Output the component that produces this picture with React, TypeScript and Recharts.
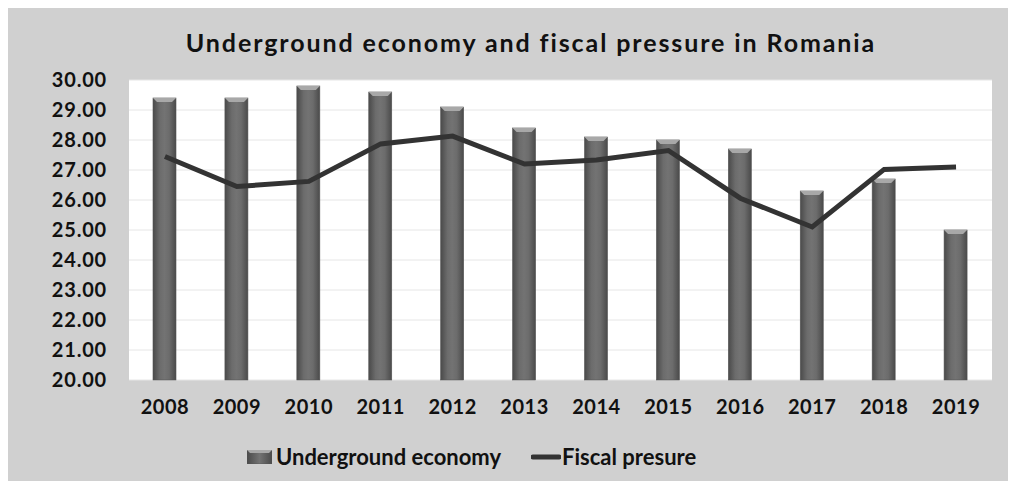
import {
  Bar,
  CartesianGrid,
  ComposedChart,
  Line,
  XAxis,
  YAxis,
} from 'recharts';

const years = ['2008', '2009', '2010', '2011', '2012', '2013', '2014', '2015', '2016', '2017', '2018', '2019'];
const underground = [29.4, 29.4, 29.8, 29.6, 29.1, 28.4, 28.1, 28.0, 27.7, 26.3, 26.7, 25.0];
const fiscal = [27.45, 26.45, 26.62, 27.87, 28.13, 27.2, 27.33, 27.65, 26.06, 25.1, 27.02, 27.1];
const yTicks = [20, 21, 22, 23, 24, 25, 26, 27, 28, 29, 30];

const data = years.map((year, i) => ({
  year,
  underground: underground[i],
  fiscal: fiscal[i],
}));

const FONT = 'Lato, "Open Sans", sans-serif';

function BevelBar(props: any) {
  const { x, y, width, height } = props;
  if (!height || height <= 0) return null;
  const b = 4;
  return (
    <g>
      <rect x={x} y={y} width={width} height={height} fill="url(#barGrad)" stroke="#555" strokeWidth={0.6} />
      <polygon
        points={`${x},${y} ${x + width},${y} ${x + width - b},${y + b} ${x + b},${y + b}`}
        fill="#a8a8a8"
      />
    </g>
  );
}

function ChartLegend() {
  return (
    <div
      style={{
        position: 'absolute',
        left: 239,
        top: 435,
        display: 'flex',
        alignItems: 'center',
        fontFamily: FONT,
        fontWeight: 700,
        fontSize: 22,
        color: '#111',
      }}
    >
      <svg width={25} height={14} style={{ marginRight: 4 }}>
        <defs>
          <linearGradient id="legGrad" x1="0" y1="0" x2="1" y2="0">
            <stop offset="0%" stopColor="#4a4a4a" />
            <stop offset="50%" stopColor="#737373" />
            <stop offset="100%" stopColor="#4a4a4a" />
          </linearGradient>
        </defs>
        <rect x={0} y={0} width={25} height={14} fill="url(#legGrad)" stroke="#555" strokeWidth={0.6} />
        <polygon points="0,0 25,0 22,3 3,3" fill="#a8a8a8" />
      </svg>
      <span>Underground economy</span>
      <svg width={30} height={8} style={{ marginLeft: 30, marginRight: 1 }}>
        <line x1={2} y1={4} x2={28} y2={4} stroke="#333" strokeWidth={5} strokeLinecap="round" />
      </svg>
      <span>Fiscal presure</span>
    </div>
  );
}

export default function App() {
  return (
    <div style={{ position: 'relative', width: 1008, height: 473, background: '#d0d0d0' }}>
      <div
        style={{
          position: 'absolute',
          left: 0,
          width: 1046,
          top: 19,
          textAlign: 'center',
          fontFamily: FONT,
          fontWeight: 700,
          fontSize: 25,
          letterSpacing: 1.9,
          color: '#111',
        }}
      >
        Underground economy and fiscal pressure in Romania
      </div>
      <ComposedChart
        width={1008}
        height={473}
        data={data}
        margin={{ top: 72, right: 24, bottom: 0, left: 0 }}
      >
        <defs>
          <linearGradient id="barGrad" x1="0" y1="0" x2="1" y2="0">
            <stop offset="0%" stopColor="#4a4a4a" />
            <stop offset="30%" stopColor="#6c6c6c" />
            <stop offset="50%" stopColor="#737373" />
            <stop offset="70%" stopColor="#6c6c6c" />
            <stop offset="100%" stopColor="#4a4a4a" />
          </linearGradient>
        </defs>
        <CartesianGrid vertical={false} stroke="#e6e6e6" fill="#ffffff" />
        <XAxis
          dataKey="year"
          axisLine={false}
          tickLine={false}
          tickMargin={14}
          height={101}
          interval={0}
          tick={{ fontFamily: FONT, fontWeight: 700, fontSize: 20, fill: '#111', letterSpacing: 0.5 }}
        />
        <YAxis
          domain={[20, 30]}
          ticks={yTicks}
          interval={0}
          width={121}
          axisLine={false}
          tickLine={false}
          tickMargin={16}
          tickFormatter={(v: number) => v.toFixed(2)}
          tick={{ fontFamily: FONT, fontWeight: 700, fontSize: 20, fill: '#111', letterSpacing: 0.8 }}
        />
        <Bar
          dataKey="underground"
          name="Underground economy"
          barSize={23}
          shape={<BevelBar />}
          isAnimationActive={false}
        />
        <Line
          dataKey="fiscal"
          name="Fiscal presure"
          type="linear"
          stroke="#333"
          strokeWidth={5}
          dot={false}
          activeDot={false}
          isAnimationActive={false}
        />
      </ComposedChart>
      <ChartLegend />
    </div>
  );
}
